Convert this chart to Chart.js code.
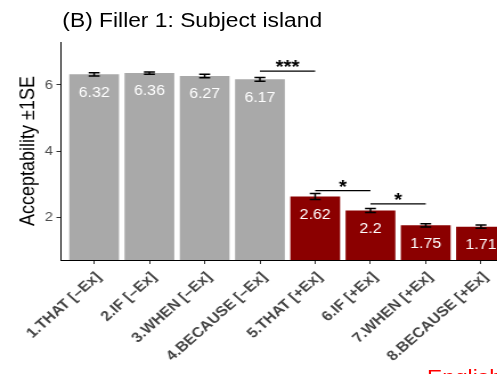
<!DOCTYPE html>
<html>
<head>
<meta charset="utf-8">
<script src="https://cdn.jsdelivr.net/npm/chart.js@4.4.1/dist/chart.umd.min.js"></script>
<style>
  html, body { margin: 0; padding: 0; background: #fff; overflow: hidden; }
  body { width: 497px; height: 374px; position: relative; }
  /* the reference is a little wider than tall, so the whole figure is stretched */
  #wrap { position: absolute; left: 0; top: 0; width: 470px; height: 374px;
          transform: scaleX(1.14); transform-origin: 0 0;
          font-family: "Liberation Sans", Arial, sans-serif; }
  #title { position: absolute; left: 54.7px; top: 10px; font-size: 20px; line-height: 20px;
           color: #000; white-space: nowrap; }
  #lang { position: absolute; left: 374.6px; top: 367.4px; font-size: 20px; line-height: 20px;
          color: #ff0000; white-space: nowrap; }
  canvas { position: absolute; left: 0; top: 0; }
</style>
</head>
<body>
<div id="wrap">
  <canvas id="chart" width="470" height="374"></canvas>
  <div id="title">(B) Filler 1: Subject island</div>
  <div id="lang">English</div>
</div>
<script>
const labels = [
  '1.THAT [–Ex]', '2.IF [–Ex]', '3.WHEN [–Ex]', '4.BECAUSE [–Ex]',
  '5.THAT [+Ex]', '6.IF [+Ex]', '7.WHEN [+Ex]', '8.BECAUSE [+Ex]'
];
const means = [6.32, 6.36, 6.27, 6.17, 2.62, 2.2, 1.75, 1.71];
const ses = [0.05, 0.035, 0.05, 0.055, 0.09, 0.06, 0.05, 0.05];
const yTicks = [2, 4, 6];

// significance brackets: from bar, to bar, height, stars
const sigFrom = [4, 5, 6];
const sigTo = [5, 6, 7];
const sigHeight = [6.42, 2.80, 2.40];
const sigText = ['***', '*', '*'];

const grey = '#A9A9A9';
const darkRed = '#8B0000';
const barColors = labels.map((l) => l.includes('[+Ex]') ? darkRed : grey);

const FONT = '"Liberation Sans", Arial, sans-serif';

const overlay = {
  id: 'overlay',
  afterDatasetsDraw(chart) {
    const { ctx, scales: { x, y } } = chart;
    const bars = chart.getDatasetMeta(0).data;
    ctx.save();

    // error bars (+-1 SE)
    ctx.strokeStyle = '#000';
    ctx.lineWidth = 1.5;
    bars.forEach((bar, i) => {
      const top = y.getPixelForValue(means[i] + ses[i]);
      const bot = y.getPixelForValue(means[i] - ses[i]);
      const hw = 4.8;
      ctx.beginPath();
      ctx.moveTo(bar.x - hw, top); ctx.lineTo(bar.x + hw, top);
      ctx.moveTo(bar.x, top); ctx.lineTo(bar.x, bot);
      ctx.moveTo(bar.x - hw, bot); ctx.lineTo(bar.x + hw, bot);
      ctx.stroke();
    });

    // value labels inside bars
    ctx.fillStyle = '#fff';
    ctx.font = '14px ' + FONT;
    ctx.textAlign = 'center';
    ctx.textBaseline = 'middle';
    bars.forEach((bar, i) => {
      ctx.fillText(String(means[i]), bar.x, bar.y + 18.5);
    });

    // significance lines and stars
    ctx.strokeStyle = '#000';
    ctx.fillStyle = '#000';
    ctx.lineWidth = 1.2;
    ctx.font = 'bold 18px ' + FONT;
    ctx.textBaseline = 'alphabetic';
    sigFrom.forEach((f, i) => {
      const x1 = x.getPixelForValue(f);
      const x2 = x.getPixelForValue(sigTo[i]);
      const py = y.getPixelForValue(sigHeight[i]);
      ctx.beginPath();
      ctx.moveTo(x1, py); ctx.lineTo(x2, py);
      ctx.stroke();
      ctx.fillText(sigText[i], (x1 + x2) / 2, py + 2);
    });
    ctx.restore();
  }
};

new Chart(document.getElementById('chart'), {
  type: 'bar',
  data: {
    datasets: [{
      data: means.map((v, i) => ({ x: i + 1, y: v })),
      backgroundColor: barColors,
      borderWidth: 0,
      barPercentage: 0.9,
      categoryPercentage: 1
    }]
  },
  options: {
    responsive: false,
    animation: false,
    layout: { padding: { left: 0, right: 19, top: 42, bottom: 0 } },
    plugins: { legend: { display: false }, tooltip: { enabled: false }, title: { display: false } },
    scales: {
      x: {
        type: 'linear',
        offset: false,
        min: 0.4,
        max: 8.6,
        afterBuildTicks: (s) => { s.ticks = labels.map((_, i) => ({ value: i + 1 })); },
        afterFit: (s) => { s.height = 114; s.paddingLeft = 0; s.paddingRight = 0; },
        grid: { display: true, offset: false, drawOnChartArea: false, tickLength: 4, color: '#333' },
        border: { display: true, color: '#000', width: 1 },
        ticks: {
          autoSkip: false,
          minRotation: 45,
          maxRotation: 45,
          padding: 5,
          labelOffset: 4,
          color: '#444',
          font: { family: FONT, size: 14, weight: 'bold' },
          callback: (v) => labels[Math.round(v) - 1]
        }
      },
      y: {
        min: 0.7,
        max: 7.3,
        afterBuildTicks: (s) => { s.ticks = yTicks.map((v) => ({ value: v })); },
        afterFit: (s) => { s.width = 53.5; },
        grid: { display: true, drawOnChartArea: false, tickLength: 4, color: '#333' },
        border: { display: true, color: '#000', width: 1 },
        ticks: { padding: 3, color: '#4D4D4D', font: { family: FONT, size: 13 } },
        title: {
          display: true,
          text: 'Acceptability ±1SE',
          color: '#000',
          font: { family: FONT, size: 18 },
          padding: { top: 14.5, bottom: 0 }
        }
      }
    }
  },
  plugins: [overlay]
});
</script>
</body>
</html>
